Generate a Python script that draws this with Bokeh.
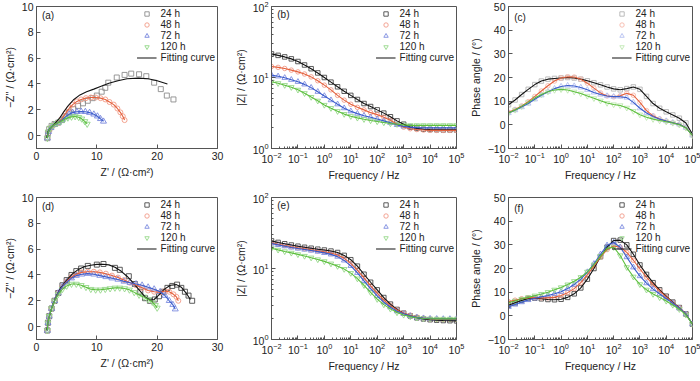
from bokeh.plotting import figure
from bokeh.layouts import gridplot
from bokeh.models import Legend, LegendItem, Label, FixedTicker, Range1d
from bokeh.embed import file_html
from bokeh.resources import INLINE

# ---------------- data ----------------
SERIES = ["24 h", "48 h", "72 h", "120 h"]
LOG_F = [-2.0, -1.75, -1.5, -1.25, -1.0, -0.75, -0.5, -0.25, 0.0, 0.25, 0.5, 0.75,
         1.0, 1.25, 1.5, 1.75, 2.0, 2.25, 2.5, 2.75, 3.0, 3.25, 3.5, 3.75, 4.0,
         4.25, 4.5, 4.75, 5.0]
FREQ = [10 ** v for v in LOG_F]

# (a) Nyquist
A_RE_24 = [1.8, 1.9, 2.1, 2.5, 3.0, 3.6, 4.2, 4.8, 5.4, 6.1, 6.9, 7.7, 8.5, 9.3, 10.0, 10.8, 11.4, 11.9, 13.3, 14.6, 15.7, 17.0, 18.2, 19.5, 20.6, 21.6, 22.7]
A_IM_24 = [-0.2, 0.2, 0.5, 0.75, 0.9, 1.0, 1.2, 1.5, 1.8, 2.05, 2.3, 2.5, 2.7, 2.9, 3.1, 3.4, 3.7, 4.1, 4.5, 4.7, 4.8, 4.75, 4.6, 4.1, 3.6, 3.1, 2.8]
A_FIT_RE_24 = [1.7, 1.9, 2.3, 3.0, 3.9, 4.6, 5.3, 6.2, 7.2, 8.3, 9.5, 10.6, 12.0, 13.5, 15.0, 16.9, 18.5, 20.0, 21.7]
A_FIT_IM_24 = [-0.2, 0.3, 0.6, 0.9, 1.4, 1.9, 2.35, 2.8, 3.15, 3.4, 3.6, 3.8, 4.05, 4.25, 4.4, 4.45, 4.4, 4.25, 4.0]
A_RE_48 = [1.8, 2.0, 2.4, 3.0, 3.6, 4.2, 4.8, 5.4, 6.0, 6.7, 7.4, 8.2, 9.0, 9.8, 10.6, 11.4, 12.1, 12.8, 13.4, 13.9, 14.3, 14.6]
A_IM_48 = [-0.2, 0.3, 0.6, 0.85, 1.0, 1.3, 1.7, 2.1, 2.4, 2.65, 2.8, 2.9, 2.95, 2.95, 2.9, 2.8, 2.6, 2.4, 2.1, 1.8, 1.5, 1.2]
A_RE_72 = [1.8, 2.0, 2.4, 3.0, 3.6, 4.2, 4.8, 5.4, 6.0, 6.7, 7.4, 8.1, 8.8, 9.5, 10.1, 10.6, 11.1]
A_IM_72 = [-0.2, 0.3, 0.6, 0.85, 1.0, 1.2, 1.45, 1.65, 1.78, 1.85, 1.87, 1.85, 1.78, 1.65, 1.5, 1.3, 1.1]
A_RE_120 = [1.8, 1.95, 2.3, 2.8, 3.4, 4.0, 4.6, 5.2, 5.8, 6.4, 7.0, 7.5, 8.0, 8.4]
A_IM_120 = [-0.2, 0.3, 0.6, 0.8, 0.95, 1.1, 1.25, 1.38, 1.45, 1.48, 1.42, 1.3, 1.1, 0.9]

# (b) |Z| Bode
B_24 = [21.5, 20.5, 19.5, 18.3, 16.8, 15.0, 13.3, 11.6, 10.0, 8.6, 7.4, 6.4, 5.6, 4.9, 4.3, 3.9, 3.5, 3.15, 2.8, 2.45, 2.2, 2.0, 1.92, 1.87, 1.85, 1.84, 1.83, 1.83, 1.83]
B_48 = [14.3, 13.9, 13.4, 12.7, 12.0, 11.2, 10.2, 9.0, 7.8, 6.7, 5.6, 4.8, 4.2, 3.8, 3.5, 3.2, 3.0, 2.75, 2.5, 2.2, 2.0, 1.9, 1.85, 1.82, 1.8, 1.8, 1.8, 1.8, 1.8]
B_72 = [10.8, 10.4, 9.9, 9.3, 8.7, 8.0, 7.2, 6.3, 5.5, 4.8, 4.2, 3.7, 3.35, 3.1, 2.9, 2.75, 2.6, 2.45, 2.3, 2.15, 2.05, 2.0, 1.97, 1.95, 1.95, 1.95, 1.95, 1.95, 1.95]
B_120 = [8.7, 8.3, 7.8, 7.3, 6.7, 6.0, 5.3, 4.7, 4.1, 3.7, 3.35, 3.05, 2.85, 2.7, 2.58, 2.48, 2.4, 2.32, 2.25, 2.2, 2.15, 2.12, 2.12, 2.12, 2.12, 2.12, 2.12, 2.12, 2.12]

# (c) phase Bode
C_24 = [8.5, 10.5, 12.8, 15.0, 17.0, 18.5, 19.3, 19.6, 19.8, 20.0, 19.8, 19.3, 18.6, 17.8, 16.9, 16.0, 15.2, 14.8, 15.3, 16.0, 15.0, 12.0, 9.0, 7.0, 5.5, 4.2, 2.8, 0.8, -4.0]
C_48 = [5.3, 6.5, 8.0, 9.8, 12.0, 14.3, 16.5, 18.5, 19.8, 20.3, 20.2, 19.3, 17.6, 15.5, 13.5, 12.2, 11.8, 12.3, 13.3, 12.5, 9.5, 6.0, 3.8, 2.5, 1.6, 0.9, 0.2, -1.2, -4.5]
C_72 = [5.0, 6.2, 7.5, 9.0, 10.8, 12.5, 14.0, 15.3, 16.2, 16.6, 16.4, 15.8, 14.8, 13.7, 12.8, 12.2, 11.9, 11.9, 11.5, 9.5, 7.0, 5.0, 3.5, 2.4, 1.6, 0.9, 0.2, -1.2, -4.5]
C_120 = [5.0, 6.3, 7.8, 9.5, 11.3, 12.8, 14.0, 14.7, 15.0, 14.7, 14.0, 13.2, 12.2, 11.2, 10.2, 9.2, 8.6, 8.2, 7.2, 5.8, 4.3, 3.2, 2.4, 1.8, 1.3, 0.8, 0.0, -1.3, -4.5]

# (d) Nyquist
D_RE_24 = [1.8, 1.9, 2.1, 2.5, 3.0, 3.6, 4.3, 5.0, 5.8, 6.6, 7.4, 8.5, 10.0, 11.1, 13.0, 13.8, 15.3, 16.3, 17.2, 18.0, 18.8, 19.6, 20.3, 21.0, 21.7, 22.5, 23.3, 24.0, 24.6, 25.2, 25.8]
D_IM_24 = [-0.3, 0.3, 0.8, 1.4, 2.0, 2.6, 3.2, 3.6, 4.0, 4.3, 4.5, 4.7, 4.8, 4.85, 4.55, 4.4, 3.9, 3.3, 2.7, 2.2, 2.0, 2.1, 2.35, 2.7, 3.0, 3.15, 3.25, 3.0, 2.7, 2.4, 2.0]
D_FIT_RE_24 = [1.7, 2.0, 2.5, 3.2, 4.0, 5.0, 6.0, 7.0, 8.0, 9.0, 10.0, 11.0, 12.0, 13.0, 14.0, 15.0, 16.0, 17.0, 18.0, 18.8, 19.5, 20.3, 21.2, 22.2, 23.2, 24.0, 24.8, 25.5]
D_FIT_IM_24 = [-0.3, 0.6, 1.4, 2.3, 3.0, 3.6, 4.1, 4.45, 4.65, 4.75, 4.82, 4.83, 4.78, 4.6, 4.3, 3.9, 3.4, 2.85, 2.3, 2.05, 2.1, 2.45, 2.9, 3.2, 3.25, 3.05, 2.6, 2.1]
D_RE_48 = [1.8, 1.9, 2.1, 2.5, 3.0, 3.6, 4.3, 5.0, 5.8, 6.6, 7.5, 8.5, 9.5, 10.5, 11.5, 12.5, 13.5, 14.5, 15.5, 16.5, 17.5, 18.5, 19.5, 20.5, 21.3, 22.0, 22.7, 23.2, 23.5]
D_IM_48 = [-0.3, 0.3, 0.8, 1.4, 2.0, 2.6, 3.1, 3.5, 3.85, 4.05, 4.2, 4.25, 4.25, 4.2, 4.1, 3.95, 3.8, 3.6, 3.4, 3.2, 3.0, 2.8, 2.7, 2.65, 2.75, 2.7, 2.5, 2.3, 2.0]
D_RE_72 = [1.8, 1.9, 2.1, 2.5, 3.0, 3.6, 4.3, 5.0, 5.8, 6.6, 7.5, 8.5, 9.5, 10.5, 11.5, 12.5, 13.5, 14.5, 15.5, 16.5, 17.5, 18.5, 19.5, 20.5, 21.3, 22.0, 22.6, 23.0]
D_IM_72 = [-0.3, 0.3, 0.8, 1.4, 2.0, 2.6, 3.1, 3.45, 3.75, 3.95, 4.05, 4.1, 4.05, 3.95, 3.85, 3.75, 3.65, 3.5, 3.4, 3.3, 3.2, 3.05, 2.9, 2.7, 2.4, 2.0, 1.7, 1.35]
D_RE_120 = [1.8, 1.9, 2.1, 2.5, 3.0, 3.6, 4.3, 5.0, 5.8, 6.6, 7.4, 8.2, 9.0, 9.8, 10.6, 11.4, 12.2, 13.0, 13.8, 14.6, 15.4, 16.2, 17.0, 17.8, 18.5, 19.2, 19.7, 20.0]
D_IM_120 = [-0.3, 0.3, 0.8, 1.4, 2.0, 2.5, 2.9, 3.15, 3.3, 3.3, 3.2, 3.05, 2.9, 2.85, 2.85, 2.9, 2.95, 3.0, 3.0, 2.95, 2.85, 2.65, 2.45, 2.3, 2.1, 1.9, 1.65, 1.45]

# (e) |Z| Bode
E_24 = [24.5, 23.3, 22.3, 21.4, 20.6, 19.9, 19.3, 18.7, 18.2, 17.6, 16.8, 15.3, 13.3, 10.8, 8.3, 6.4, 5.0, 3.9, 3.15, 2.65, 2.35, 2.15, 2.02, 1.95, 1.9, 1.87, 1.85, 1.84, 1.83]
E_48 = [23.0, 22.0, 21.1, 20.3, 19.6, 19.0, 18.4, 17.8, 17.2, 16.5, 15.5, 13.9, 11.8, 9.5, 7.4, 5.7, 4.5, 3.6, 3.0, 2.6, 2.35, 2.2, 2.08, 2.0, 1.95, 1.93, 1.92, 1.92, 1.92]
E_72 = [22.5, 21.5, 20.6, 19.8, 19.1, 18.5, 17.9, 17.3, 16.6, 15.8, 14.7, 13.0, 10.9, 8.7, 6.7, 5.2, 4.1, 3.35, 2.85, 2.5, 2.3, 2.15, 2.05, 2.0, 1.97, 1.96, 1.95, 1.95, 1.95]
E_120 = [19.3, 18.3, 17.4, 16.6, 15.8, 15.0, 14.2, 13.4, 12.6, 11.7, 10.8, 9.8, 8.6, 7.2, 5.8, 4.6, 3.7, 3.1, 2.7, 2.4, 2.22, 2.1, 2.02, 1.98, 1.96, 1.95, 1.95, 1.95, 1.95]

# (f) phase Bode
F_24 = [4.5, 5.5, 6.5, 7.3, 7.5, 7.2, 6.9, 6.8, 7.0, 7.8, 9.3, 11.8, 15.5, 20.0, 25.0, 29.0, 31.8, 32.0, 30.0, 26.0, 21.5, 17.5, 14.0, 11.0, 8.3, 5.8, 3.5, 0.8, -3.5]
F_48 = [6.0, 6.6, 7.2, 7.6, 7.7, 7.6, 7.6, 7.9, 8.6, 9.8, 11.5, 14.0, 17.3, 21.0, 24.8, 28.0, 29.5, 29.0, 26.8, 23.5, 19.8, 16.3, 13.2, 10.5, 8.0, 5.6, 3.4, 0.8, -3.5]
F_72 = [3.8, 4.8, 5.8, 6.7, 7.4, 8.0, 8.6, 9.3, 10.2, 11.5, 13.2, 15.5, 18.5, 22.0, 26.0, 29.8, 31.0, 29.0, 24.8, 20.5, 16.8, 13.8, 11.3, 9.2, 7.3, 5.3, 3.2, 0.7, -3.5]
F_120 = [5.5, 6.3, 7.1, 7.8, 8.5, 9.2, 10.0, 11.0, 12.0, 13.2, 14.6, 16.3, 18.6, 21.6, 25.2, 28.5, 29.0, 25.5, 20.5, 16.5, 13.3, 11.0, 9.2, 7.8, 6.3, 4.6, 2.8, 0.4, -3.5]

# ---------------- styling ----------------
FONT = "Liberation Sans"
FIT_COLORS = ["#111111", "#e4603c", "#3a5ccc", "#5cbf3c"]
MK_A = ["#8c8c8c", "#f29a85", "#7585dd", "#8ed685"]
MK_DARK = ["#4a4a4a", "#f29a88", "#7d8ce0", "#96d88a"]
MK_LIGHT = ["#b4b4b4", "#f6b8aa", "#b4c0f0", "#bfe8b2"]
MARKERS = ["square", "circle", "triangle", "inverted_triangle"]
MSIZE_NYQ = [5, 5, 6, 6]
MSIZE_BODE = [4.5, 4.5, 5.5, 5.5]

COL_BORDERS = [(29, 14, 181), (36, 10, 185), (36, 10, 184)]  # left, right, frame width
ROW_BORDERS = [(6, 34), (14, 33)]  # top, bottom
FRAME_H = 142

LOG_TICKS = [1e-2, 1e-1, 1e0, 1e1, 1e2, 1e3, 1e4, 1e5]
LOG_MINOR = [k * 10.0 ** e for e in range(-2, 5) for k in range(2, 10)]
Z_TICKS = [1, 10, 100]
Z_MINOR = [k * 10.0 ** e for e in range(0, 2) for k in range(2, 10)]


def make_fig(col, row, x_log, y_log, xr, yr, xlabel, ylabel):
    bl, br, fw = COL_BORDERS[col]
    bt, bb = ROW_BORDERS[row]
    p = figure(frame_width=fw, frame_height=FRAME_H,
               x_axis_type="log" if x_log else "linear",
               y_axis_type="log" if y_log else "linear",
               x_range=Range1d(*xr), y_range=Range1d(*yr),
               output_backend="svg", toolbar_location=None,
               min_border_left=bl, min_border_right=br,
               min_border_top=bt, min_border_bottom=bb,
               background_fill_color="white", border_fill_color="white")
    p.grid.visible = False
    p.outline_line_color = "#555555"
    p.outline_line_width = 1
    p.xaxis.axis_label = xlabel
    p.yaxis.axis_label = ylabel
    for ax in p.xaxis + p.yaxis:
        ax.major_tick_in = 4
        ax.major_tick_out = 0
        ax.minor_tick_in = 2
        ax.minor_tick_out = 0
        ax.axis_line_color = "#555555"
        ax.major_tick_line_color = "#555555"
        ax.minor_tick_line_color = "#555555"
        ax.major_label_text_font = FONT
        ax.major_label_text_font_size = "10.5px"
        ax.major_label_text_color = "#222222"
        ax.axis_label_text_font = FONT
        ax.axis_label_text_font_size = "10.5px"
        ax.axis_label_text_font_style = "normal"
        ax.axis_label_text_color = "#222222"
        ax.axis_label_standoff = 3
        ax.major_label_standoff = 3
    if x_log:
        p.xaxis.ticker = FixedTicker(ticks=LOG_TICKS, minor_ticks=LOG_MINOR)
    if y_log:
        p.yaxis.ticker = FixedTicker(ticks=Z_TICKS, minor_ticks=Z_MINOR)
    return p


def add_legend(p, scatter_rs, fit_r):
    items = [LegendItem(label=s, renderers=[r]) for s, r in zip(SERIES, scatter_rs)]
    items.append(LegendItem(label="Fitting curve", renderers=[fit_r]))
    lg = Legend(items=items, location="top_right", border_line_color=None,
                background_fill_alpha=0, label_text_font=FONT,
                label_text_font_size="10px", label_text_color="#222222",
                glyph_width=20, glyph_height=11, label_height=11, spacing=0,
                padding=2, margin=2, label_standoff=4)
    p.add_layout(lg)


def panel_label(p, text, x, y):
    p.add_layout(Label(x=x, y=y, text=text, text_font=FONT, text_font_size="10px",
                       text_color="#222222", text_baseline="middle"))


def nyquist(col, row, data, fits, mk_colors, tag):
    p = make_fig(col, row, False, False, (0, 30), (-1, 10),
                 "Z' / (Ω·cm²)", "−Z'' / (Ω·cm²)")
    p.xaxis.ticker = FixedTicker(ticks=[0, 10, 20, 30])
    p.yaxis.ticker = FixedTicker(ticks=[0, 2, 4, 6, 8, 10])
    srs = []
    for i, (re, im) in enumerate(data):
        srs.append(p.scatter(re, im, marker=MARKERS[i], size=MSIZE_NYQ[i], fill_color=None,
                             line_color=mk_colors[i], line_width=0.9))
    fit_rs = []
    for i, (fre, fim) in enumerate(fits):
        fit_rs.append(p.line(fre, fim, line_color=FIT_COLORS[i], line_width=1.1))
    add_legend(p, srs, fit_rs[0])
    panel_label(p, tag, 0.9, 9.3)
    return p


def bode(col, row, series, mk_colors, phase, tag):
    if phase:
        p = make_fig(col, row, True, False, (1e-2, 1e5), (-10, 50),
                     "Frequency / Hz", "Phase angle / (°)")
        p.yaxis.ticker = FixedTicker(ticks=[-10, 0, 10, 20, 30, 40, 50])
        ly = 45.3
    else:
        p = make_fig(col, row, True, True, (1e-2, 1e5), (1, 100),
                     "Frequency / Hz", "|Z| / (Ω·cm²)")
        ly = 76
    srs = []
    for i, ys in enumerate(series):
        srs.append(p.scatter(FREQ, ys, marker=MARKERS[i], size=MSIZE_BODE[i],
                             fill_color=None, line_color=mk_colors[i], line_width=0.9))
    fit_rs = []
    for i, ys in enumerate(series):
        fit_rs.append(p.line(FREQ, ys, line_color=FIT_COLORS[i], line_width=1.1))
    add_legend(p, srs, fit_rs[0])
    panel_label(p, tag, 0.0165, ly)
    return p


pa = nyquist(0, 0, [(A_RE_24, A_IM_24), (A_RE_48, A_IM_48), (A_RE_72, A_IM_72), (A_RE_120, A_IM_120)],
             [(A_FIT_RE_24, A_FIT_IM_24), (A_RE_48, A_IM_48), (A_RE_72, A_IM_72), (A_RE_120, A_IM_120)],
             MK_A, "(a)")
pb = bode(1, 0, [B_24, B_48, B_72, B_120], MK_DARK, False, "(b)")
pc = bode(2, 0, [C_24, C_48, C_72, C_120], MK_LIGHT, True, "(c)")
pd = nyquist(0, 1, [(D_RE_24, D_IM_24), (D_RE_48, D_IM_48), (D_RE_72, D_IM_72), (D_RE_120, D_IM_120)],
             [(D_FIT_RE_24, D_FIT_IM_24), (D_RE_48, D_IM_48), (D_RE_72, D_IM_72), (D_RE_120, D_IM_120)],
             MK_DARK, "(d)")
pe = bode(1, 1, [E_24, E_48, E_72, E_120], MK_DARK, False, "(e)")
pf = bode(2, 1, [F_24, F_48, F_72, F_120], MK_DARK, True, "(f)")

grid = gridplot([[pa, pb, pc], [pd, pe, pf]], toolbar_location=None)

with open("out.html", "w") as fh:
    fh.write(file_html(grid, INLINE))
